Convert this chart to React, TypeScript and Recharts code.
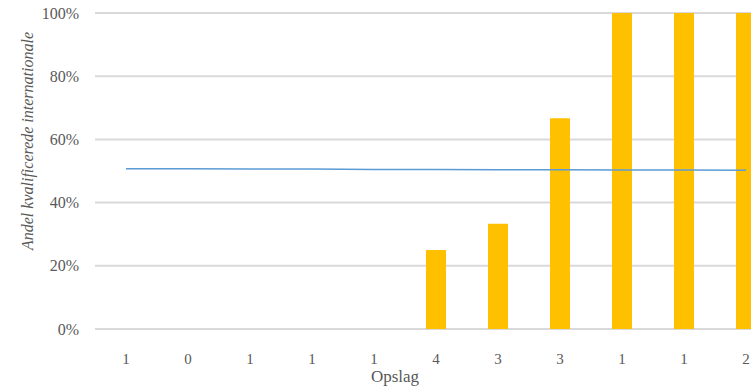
import { ComposedChart, Bar, Line, XAxis, YAxis, CartesianGrid } from 'recharts';

// opslag per position (x-axis labels)
const categories = ['1', '0', '1', '1', '1', '4', '3', '3', '1', '1', '2'];
// andel kvalificerede internationale, in percent
const shares = [0, 0, 0, 0, 0, 25, 33.3, 66.7, 100, 100, 100];
// overall average line
const average = [50.7, 50.7, 50.6, 50.6, 50.5, 50.5, 50.4, 50.4, 50.3, 50.3, 50.2];
const yTicks = [0, 20, 40, 60, 80, 100];

const chartData = categories.map((c, i) => ({
  idx: i,
  label: c,
  share: shares[i],
  avg: average[i],
}));

const FONT = '"Liberation Serif", serif';
const GREY = '#595959';

export default function App() {
  return (
    <div style={{ position: 'absolute', left: 0, top: 0, width: 751, height: 390, overflow: 'hidden', background: '#fff' }}>
      <ComposedChart
        width={790}
        height={390}
        data={chartData}
        margin={{ top: 13, right: 13, bottom: 0, left: 0 }}
        style={{ fontFamily: FONT }}
      >
        <CartesianGrid vertical={false} stroke="#d9d9d9" strokeWidth={2} />
        <XAxis
          dataKey="idx"
          tickFormatter={(i: number) => categories[i]}
          height={61}
          axisLine={false}
          tickLine={false}
          tickMargin={18}
          tick={{ fill: GREY, fontSize: 15 }}
          label={{ value: 'Opslag', position: 'insideBottom', dx: -41, offset: 8, fill: GREY, fontSize: 17 }}
        />
        <YAxis
          width={95}
          domain={[0, 100]}
          ticks={yTicks}
          tickFormatter={(v: number) => `${v}%`}
          axisLine={false}
          tickLine={false}
          tickMargin={10}
          tick={{ fill: GREY, fontSize: 16 }}
          label={{
            content: () => (
              <text
                x={27}
                y={141}
                transform="rotate(-90, 27, 141)"
                textAnchor="middle"
                dominantBaseline="central"
                fill={GREY}
                fontSize={16}
                fontStyle="italic"
                fontFamily={FONT}
              >
                Andel kvalificerede  internationale
              </text>
            ),
          }}
        />
        <Bar dataKey="share" fill="#FFC000" barSize={20} isAnimationActive={false} />
        <Line
          dataKey="avg"
          type="linear"
          stroke="#5B9BD5"
          strokeWidth={1.5}
          dot={false}
          isAnimationActive={false}
        />
      </ComposedChart>
    </div>
  );
}
